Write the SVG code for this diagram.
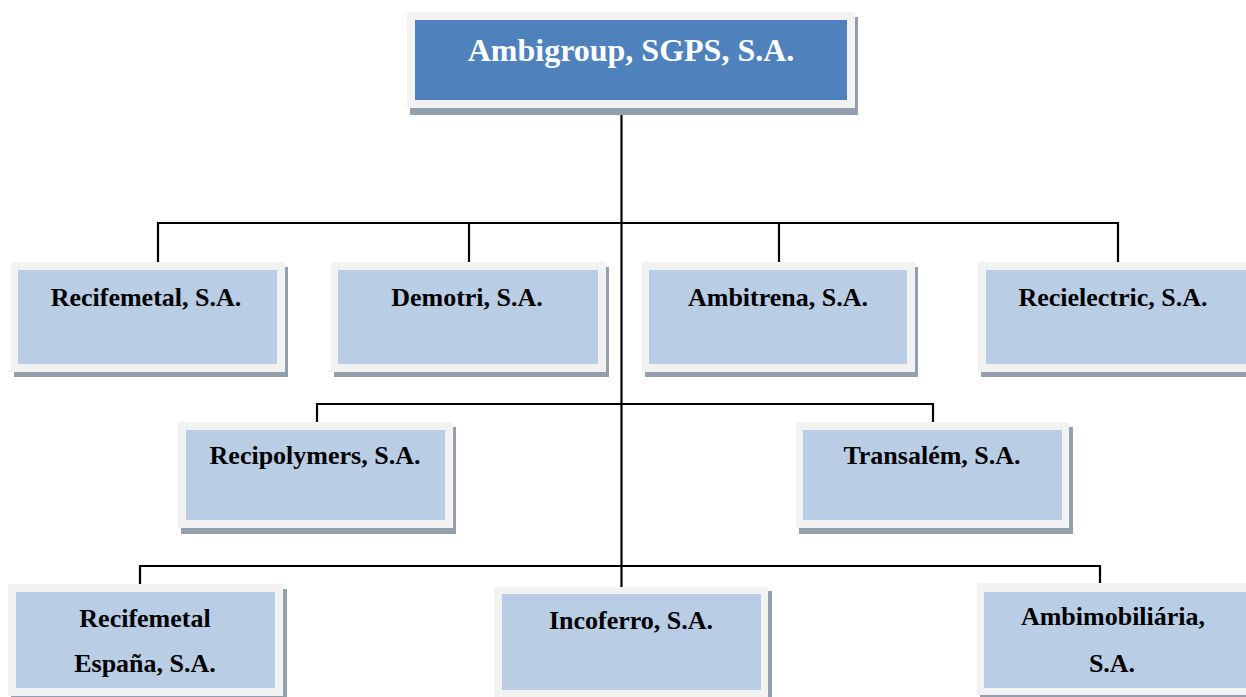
<svg xmlns="http://www.w3.org/2000/svg" width="1246" height="697" viewBox="0 0 1246 697">
<style>
.sh{fill:#949fad}
.fr{fill:#f2f2f2}
.in{fill:#b9cde5}
.top{fill:#4f81bd}
.t{font-family:"Liberation Serif","Times New Roman",serif;font-weight:bold;font-size:26px;fill:#000;text-anchor:middle}
.tt{font-family:"Liberation Serif","Times New Roman",serif;font-weight:bold;font-size:32px;fill:#fff;text-anchor:middle}
.c{stroke:#000;stroke-width:2.2;fill:none}
</style>
<rect width="1246" height="697" fill="#fff"/>
<g id="connectors">
<line class="c" x1="621.5" y1="108" x2="621.5" y2="588"/>
<polyline class="c" points="158,262 158,223 1118,223 1118,262"/>
<line class="c" x1="469" y1="223" x2="469" y2="262"/>
<line class="c" x1="779" y1="223" x2="779" y2="262"/>
<polyline class="c" points="317,422 317,404 933,404 933,422"/>
<polyline class="c" points="140,584 140,566 1100,566 1100,584"/>
</g>
<g id="ambigroup">
<rect class="sh" x="410" y="17" width="448" height="98"/>
<rect class="fr" x="407" y="12" width="448" height="96"/>
<rect class="top" x="415" y="20" width="432" height="80"/>
<text class="tt" x="631" y="61">Ambigroup, SGPS, S.A.</text>
</g>
<g id="recifemetal">
<rect class="sh" x="14" y="267" width="274" height="110"/>
<rect class="fr" x="11" y="262" width="274" height="110"/>
<rect class="in" x="18" y="270" width="259" height="94"/>
<text class="t" x="146" y="306">Recifemetal, S.A.</text>
</g>
<g id="demotri">
<rect class="sh" x="334" y="267" width="275" height="110"/>
<rect class="fr" x="331" y="262" width="275" height="110"/>
<rect class="in" x="338" y="270" width="260" height="94"/>
<text class="t" x="467" y="306">Demotri, S.A.</text>
</g>
<g id="ambitrena">
<rect class="sh" x="645" y="267" width="273" height="110"/>
<rect class="fr" x="642" y="262" width="273" height="110"/>
<rect class="in" x="649" y="270" width="258" height="94"/>
<text class="t" x="778" y="306">Ambitrena, S.A.</text>
</g>
<g id="recielectric">
<rect class="sh" x="981" y="267" width="276" height="110"/>
<rect class="fr" x="978" y="262" width="276" height="110"/>
<rect class="in" x="986" y="270" width="261" height="94"/>
<text class="t" x="1113" y="306">Recielectric, S.A.</text>
</g>
<g id="recipolymers">
<rect class="sh" x="181" y="427" width="275" height="107"/>
<rect class="fr" x="178" y="422" width="275" height="106"/>
<rect class="in" x="186" y="430" width="259" height="90"/>
<text class="t" x="315" y="464">Recipolymers, S.A.</text>
</g>
<g id="transalem">
<rect class="sh" x="799" y="427" width="274" height="107"/>
<rect class="fr" x="796" y="422" width="273" height="106"/>
<rect class="in" x="803" y="430" width="259" height="90"/>
<text class="t" x="932" y="464">Transalém, S.A.</text>
</g>
<g id="recifemetal-espana">
<rect class="sh" x="11" y="589" width="276" height="112"/>
<rect class="fr" x="8" y="584" width="275" height="112"/>
<rect class="in" x="16" y="592" width="259" height="96"/>
<text class="t" x="145" y="627">Recifemetal</text>
<text class="t" x="145" y="672">España, S.A.</text>
</g>
<g id="incoferro">
<rect class="sh" x="497" y="591" width="275" height="112"/>
<rect class="fr" x="494" y="587" width="274" height="112"/>
<rect class="in" x="502" y="594" width="259" height="96"/>
<text class="t" x="631" y="629">Incoferro, S.A.</text>
</g>
<g id="ambimobiliaria">
<rect class="sh" x="980" y="588" width="276" height="112"/>
<rect class="fr" x="977" y="583" width="276" height="112"/>
<rect class="in" x="984" y="592" width="262" height="96"/>
<text class="t" x="1113" y="625">Ambimobiliária,</text>
<text class="t" x="1112" y="672">S.A.</text>
</g>
</svg>
